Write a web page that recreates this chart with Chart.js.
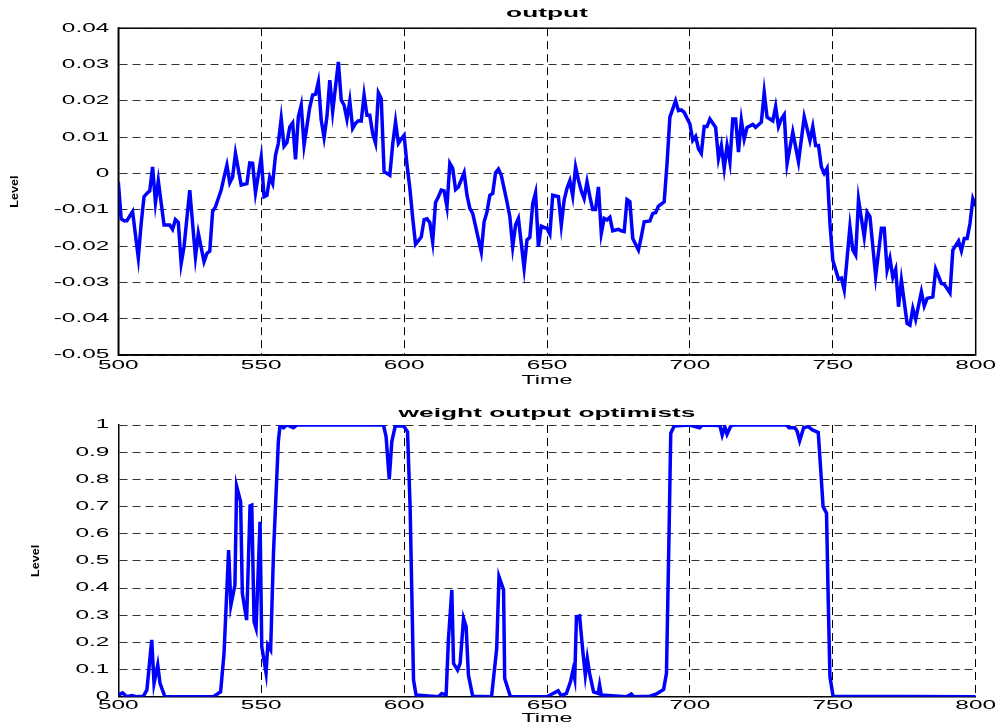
<!DOCTYPE html>
<html><head><meta charset="utf-8">
<script src="https://cdn.jsdelivr.net/npm/chart.js@4"></script>
<style>
html,body{margin:0;padding:0;background:#fff;overflow:hidden;width:999px;height:726px}
canvas{position:absolute;left:0}
#c1{top:0}
#c2{top:395px}
</style></head><body>
<canvas id="c1" width="999" height="395"></canvas>
<canvas id="c2" width="999" height="340"></canvas>
<script>
const xTickLabels = ['500','550','600','650','700','750','800'];
const topTickLabels = ['-0.05','-0.04','-0.03','-0.02','-0.01','0','0.01','0.02','0.03','0.04'];
const bottomTickLabels = ['0','0.1','0.2','0.3','0.4','0.5','0.6','0.7','0.8','0.9','1'];
const topTitle = 'output';
const bottomTitle = 'weight output optimists';
const xTitle = 'Time';
const yTitle = 'Level';

const topTimes = [500,501,502,503,505,507,508,509,510,511,512,513,514,516,518,519,520,521,522,523,525,527,528,530,531,532,533,534,536,537,538,539,540,541,543,545,546,547,548,550,551,552,553,554,555,556,557,558,559,560,561,562,563,564,565,567,568,569,570,571,572,573,574,575,577,578,579,580,581,582,583,584,585,586,587,588,589,590,591,592,593,595,596,597,598,599,600,601,602,603,604,606,607,608,609,610,611,612,613,614,615,616,617,618,619,621,622,623,624,627,628,629,630,631,632,633,634,636,637,638,639,640,642,643,644,645,646,647,648,649,650,651,652,654,655,656,657,658,659,660,661,662,663,664,665,666,667,668,669,670,671,672,673,675,676,677,678,679,680,682,683,684,686,687,688,689,691,692,693,695,696,697,698,700,701,702,703,704,705,706,707,709,710,711,712,713,714,715,716,717,718,719,720,722,723,725,726,727,729,730,731,732,733,734,736,738,740,742,743,744,745,746,747,748,749,750,752,753,754,756,757,758,759,761,762,763,765,767,768,769,770,771,772,773,774,776,777,778,779,781,782,783,785,786,788,789,791,792,794,795,796,797,798,799,800];
const topValues = [-0.0023,-0.0125,-0.0130,-0.0130,-0.0105,-0.0232,-0.0138,-0.0064,-0.0055,-0.0048,0.0018,-0.0080,-0.0020,-0.0142,-0.0142,-0.0154,-0.0127,-0.0135,-0.0248,-0.0202,-0.0046,-0.0230,-0.0165,-0.0243,-0.0220,-0.0214,-0.0105,-0.0092,-0.0046,-0.0010,0.0023,-0.0026,-0.0010,0.0055,-0.0032,-0.0028,0.0029,0.0028,-0.0053,0.0045,-0.0064,-0.0060,-0.0010,-0.0028,0.0050,0.0083,0.0151,0.0075,0.0085,0.0128,0.0139,0.0039,0.0156,0.0188,0.0078,0.0183,0.0216,0.0218,0.0252,0.0147,0.0099,0.0156,0.0257,0.0170,0.0307,0.0202,0.0188,0.0149,0.0200,0.0124,0.0138,0.0145,0.0144,0.0216,0.0160,0.0160,0.0110,0.0084,0.0222,0.0206,0.0005,-0.0005,0.0080,0.0142,0.0083,0.0095,0.0105,0.0025,-0.0040,-0.0122,-0.0195,-0.0175,-0.0127,-0.0125,-0.0135,-0.0188,-0.0080,-0.0064,-0.0046,-0.0048,-0.0092,0.0028,0.0014,-0.0044,-0.0037,0.0002,-0.0060,-0.0096,-0.0110,-0.0216,-0.0133,-0.0106,-0.0060,-0.0055,0.0002,0.0012,-0.0005,-0.0078,-0.0119,-0.0202,-0.0142,-0.0124,-0.0261,-0.0183,-0.0176,-0.0083,-0.0053,-0.0202,-0.0145,-0.0149,-0.0151,-0.0167,-0.0060,-0.0064,-0.0142,-0.0073,-0.0041,-0.0020,-0.0062,0.0018,-0.0018,-0.0048,-0.0069,-0.0023,-0.0064,-0.0099,-0.0099,-0.0037,-0.0165,-0.0124,-0.0128,-0.0121,-0.0158,-0.0154,-0.0158,-0.0160,-0.0072,-0.0078,-0.0179,-0.0211,-0.0174,-0.0133,-0.0131,-0.0110,-0.0108,-0.0090,-0.0078,0.0028,0.0155,0.0200,0.0173,0.0175,0.0168,0.0136,0.0091,0.0102,0.0068,0.0055,0.0129,0.0129,0.0150,0.0127,0.0041,0.0077,0.0014,0.0077,0.0032,0.0150,0.0150,0.0059,0.0147,0.0095,0.0127,0.0135,0.0127,0.0141,0.0223,0.0155,0.0145,0.0184,0.0129,0.0150,0.0162,0.0027,0.0114,0.0032,0.0156,0.0091,0.0129,0.0077,0.0077,0.0018,0.0000,0.0014,-0.0137,-0.0239,-0.0291,-0.0288,-0.0321,-0.0147,-0.0211,-0.0225,-0.0072,-0.0175,-0.0107,-0.0119,-0.0283,-0.0151,-0.0151,-0.0266,-0.0234,-0.0286,-0.0264,-0.0367,-0.0294,-0.0413,-0.0418,-0.0372,-0.0402,-0.0326,-0.0365,-0.0344,-0.0340,-0.0264,-0.0303,-0.0305,-0.0329,-0.0211,-0.0186,-0.0213,-0.0179,-0.0179,-0.0138,-0.0070,-0.0090];

const bottomTimes = [500,501.5,503,504.7,506.4,508.8,510,511.7,512.5,513.8,514.6,516.3,533.3,535.8,537,538.6,539.4,540.8,541.4,542.8,543.4,544.9,546.1,546.7,547.5,548.2,549.6,550.2,551.7,552.3,553.3,554.3,555,556,556.6,557.8,559,561.3,562.5,592.8,593.7,594.8,595.7,596.9,599.8,601.2,602.1,603.3,604.2,612,613.2,614.7,615.5,616.7,617.3,618.7,619.6,620.8,621.7,622.5,624,630.6,632.4,633.2,634.8,635.2,637.2,650,652.1,653.9,655,656.8,658.2,659.1,659.7,660.3,661.4,662.6,663.4,664.1,664.9,666.3,667.9,668.4,669,677.8,679.5,680.3,686,688.3,690.8,691.8,692.7,693.3,694.5,699.9,703.4,704.4,710.5,711.3,712.2,713,714.2,715.1,733.8,734.7,736.7,737.5,738.4,739.8,741.4,742.9,744.9,745.7,746.6,747.8,748.4,749,750.1,800];
const bottomValues = [0.006,0.014,0,0.004,0,0.002,0.025,0.209,0.049,0.117,0.049,0,0,0.018,0.16,0.54,0.337,0.41,0.775,0.718,0.38,0.282,0.702,0.705,0.276,0.252,0.644,0.184,0.088,0.19,0.172,0.53,0.70,0.94,1.0,0.99,1.0,0.99,1.0,1.0,0.957,0.80,0.939,0.996,0.997,0.975,0.70,0.061,0.006,0,0.012,0.006,0.209,0.393,0.123,0.098,0.123,0.288,0.258,0.08,0.002,0,0.178,0.442,0.393,0.067,0,0,0.012,0.022,0.004,0.012,0.055,0.098,0.067,0.294,0.297,0.16,0.08,0.141,0.086,0.018,0.012,0.043,0.006,0,0.01,0,0.002,0.01,0.027,0.086,0.60,0.97,0.996,1.0,0.99,1.0,0.998,0.963,0.994,0.966,0.994,1.0,1.0,0.99,0.99,0.978,0.942,0.99,0.994,0.982,0.973,0.847,0.70,0.675,0.356,0.074,0.002,0];

const FONT = '"Liberation Sans", Arial, Helvetica, sans-serif';
const SX = 1.95;

function stretchText(canvas){
  const ctx = canvas.getContext('2d');
  const orig = ctx.fillText;
  ctx.fillText = function(text, x, y){
    const m = this.getTransform();
    const s = Math.abs(m.b) > 1e-6 ? 1.15 : SX;
    this.save();
    this.translate(x, y);
    this.scale(s, 1);
    orig.call(this, text, 0, 0);
    this.restore();
  };
}
function lab(arr, v){
  const s = arr.find(a => Math.abs(parseFloat(a) - v) < 1e-9);
  return s === undefined ? '' : s;
}
const boxPlugin = {
  id: 'box',
  afterDraw(chart){
    const {ctx, chartArea:a} = chart;
    ctx.save();
    ctx.strokeStyle = '#000';
    ctx.lineWidth = 1.5;
    ctx.setLineDash([]);
    ctx.strokeRect(a.left, a.top, a.right - a.left, a.bottom - a.top);
    ctx.restore();
  }
};

function makeOptions(o){
  return {
    responsive:false, animation:false, devicePixelRatio:1,
    layout:{padding:{left:0,right:23.3,top:0,bottom:0}},
    plugins:{
      legend:{display:false}, tooltip:{enabled:false},
      title:{display:true, text:o.title, fullSize:false, color:'#000',
        font:{family:FONT, size:13.5, weight:'bold'}, padding:o.titlePad}
    },
    scales:{
      x:{type:'linear', min:500, max:800,
        afterFit:s=>{s.height=o.xHeight;},
        ticks:{stepSize:50, autoSkip:false, maxRotation:0, minRotation:0, padding:o.xTickPad, color:'#000',
          font:{family:FONT,size:12.5}, callback:v=>lab(xTickLabels,v)},
        grid:{color:'#000', lineWidth:1, drawTicks:false},
        border:{display:true, color:'#000', width:1.5, dash:[8,5]},
        title:{display:true, text:xTitle, color:'#000', font:{family:FONT,size:12}, padding:{top:0,bottom:o.xTitlePad}}
      },
      y:{type:'linear', min:o.ymin, max:o.ymax,
        afterFit:s=>{s.width=118.3;},
        ticks:{stepSize:o.ystep, autoSkip:false, padding:9, color:'#000',
          font:{family:FONT,size:12.5}, callback:v=>lab(o.ylabels,v)},
        grid:{color:'#333', lineWidth:1, drawTicks:false},
        border:{display:true, color:'#000', width:1.5, dash:[8,5]},
        title:{display:true, text:yTitle, color:'#000', font:{family:FONT,size:11,weight:'bold'}, padding:{top:o.yTitlePad,bottom:0}}
      }
    }
  };
}

const c1 = document.getElementById('c1');
const c2 = document.getElementById('c2');
stretchText(c1); stretchText(c2);

new Chart(c1, {
  type:'line',
  data:{datasets:[{data: topTimes.map((t,i)=>({x:t,y:topValues[i]})),
    borderColor:'#0000ff', borderWidth:3.5, pointRadius:0, tension:0, fill:false, borderJoinStyle:'miter'}]},
  options: makeOptions({title:topTitle, titlePad:{top:5.6,bottom:6.4}, xHeight:40, xTickPad:3.5, xTitlePad:6.8,
    ymin:-0.05, ymax:0.04, ystep:0.01, ylabels:topTickLabels, yTitlePad:8.6}),
  plugins:[boxPlugin]
});

new Chart(c2, {
  type:'line',
  data:{datasets:[{data: bottomTimes.map((t,i)=>({x:t,y:bottomValues[i]})),
    borderColor:'#0000ff', borderWidth:3.5, pointRadius:0, tension:0, fill:false, borderJoinStyle:'miter'}]},
  options: makeOptions({title:bottomTitle, titlePad:{top:10.5,bottom:3.3}, xHeight:38.3, xTickPad:1.3, xTitlePad:8.8,
    ymin:0, ymax:1, ystep:0.1, ylabels:bottomTickLabels, yTitlePad:29.4})
});
</script>
</body></html>
